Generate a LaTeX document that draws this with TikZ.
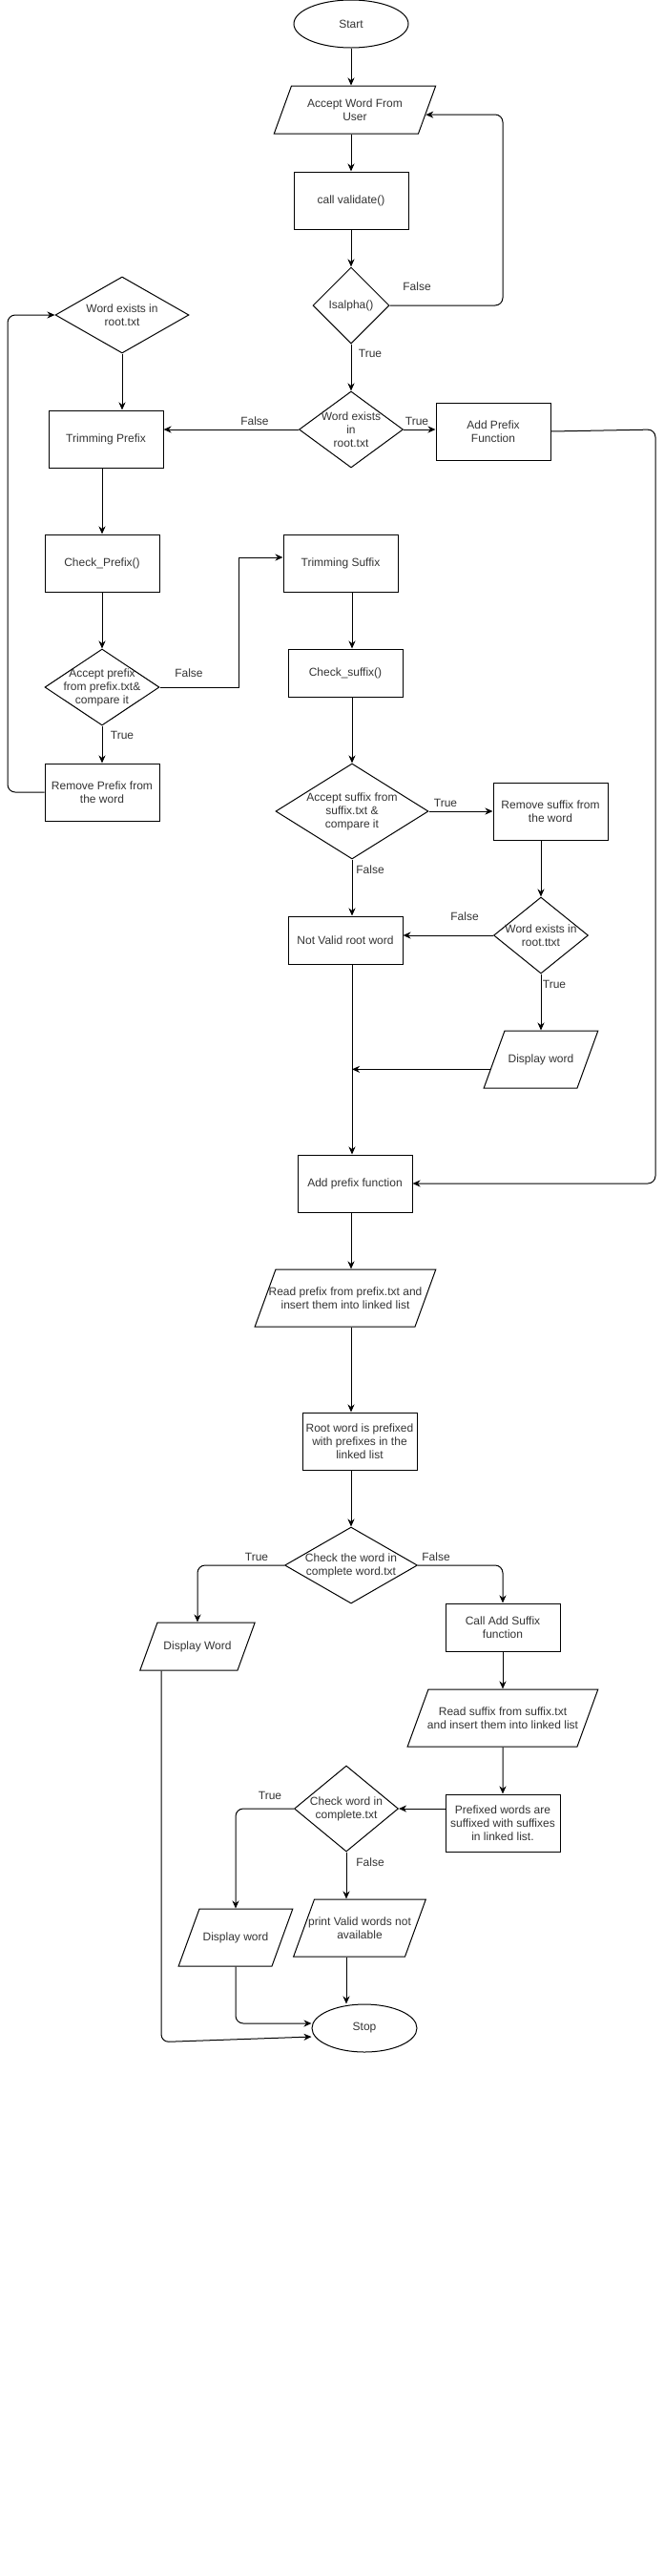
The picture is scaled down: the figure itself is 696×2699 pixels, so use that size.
\documentclass[tikz,border=0pt]{standalone}
\usepackage{fontspec}
\setmainfont{Liberation Sans}
\usepackage{tikz}
\usetikzlibrary{shapes.geometric,arrows.meta}

\begin{document}
\begin{tikzpicture}[x=1pt, y=-1pt, font=\fontsize{12}{14}\selectfont,
    base/.style={draw, line width=1pt, inner sep=0pt, text=black!80, align=center},
    box/.style={base, rectangle, minimum width=120pt},
    oval/.style={base, ellipse, minimum height=50pt},
    dia/.style={base, diamond},
    io/.style 2 args={base, trapezium, trapezium left angle=70, trapezium right angle=110,
        text width=#1, text height=#2, text depth=#2},
    txt/.style={text=black!80, align=center, inner sep=0pt},
    lbl/.style={text=black!80, inner sep=0pt},
    arr/.style={line width=1pt, -{Stealth[length=8pt,width=7pt,inset=2.5pt]}},
    elbow/.style={arr, rounded corners=8pt}]
    \useasboundingbox (0,0) rectangle (696,2699);
    \coordinate (sp) at (368,0); %main line%
    \coordinate (jn) at (369,1120); %join of display word%

    % input and validation
    \node[oval, minimum width=120pt] (start) at (368,25) {Start};
    \node[io={133pt}{25pt}, label={[txt]center:Accept Word From\\User}] (accept) at (372,115) {};
    \node[box, minimum height=60pt] (valid) at (368,210) {call validate()};
    \node[dia, minimum width=80pt, minimum height=80pt, label={[txt]center:Isalpha()}] (isalpha) at (368,320) {};

    % prefix side
    \node[dia, minimum width=140pt, minimum height=80pt, label={[txt]center:Word exists in\\root.txt}] (wordA) at (128,330) {};
    \node[dia, minimum width=109pt, minimum height=80pt, label={[txt]center:Word exists\\in\\root.txt}] (wordB) at (368,450) {};
    \node[box, minimum height=60pt] (trimpre) at (111,460) {Trimming Prefix};
    \node[box, minimum height=60pt] (addpre) at (517,452) {Add Prefix\\Function};
    \node[box, minimum height=60pt] (chkpre) at (107,590) {Check\_Prefix()};
    \node[dia, minimum width=120pt, minimum height=80pt, label={[txt]center:Accept prefix\\from prefix.txt\&\\compare it}] (accpre) at (107,720) {};
    \node[box, minimum height=60pt] (rempre) at (107,830) {Remove Prefix from\\the word};

    % suffix side
    \node[box, minimum height=60pt] (trimsuf) at (357,590) {Trimming Suffix};
    \node[box, minimum height=50pt] (chksuf) at (362,705) {Check\_suffix()};
    \node[dia, minimum width=160pt, minimum height=100pt, label={[txt]center:Accept suffix from\\suffix.txt \&\\compare it}] (accsuf) at (369,850) {};
    \node[box, minimum height=60pt] (remsuf) at (577,850) {Remove suffix from\\the word};
    \node[dia, minimum width=99pt, minimum height=80pt, label={[txt]center:Word exists in\\root.ttxt}] (wordC) at (567,980) {};
    \node[box, minimum height=50pt] (notvalid) at (362,985) {Not Valid root word};
    \node[io={76pt}{30pt}, label={[txt]center:Display word}] (disp1) at (567,1110) {};

    % adding prefixes and suffixes
    \node[box, minimum height=60pt] (addfn) at (372,1240) {Add prefix function};
    \node[io={146pt}{30pt}, label={[txt]center:Read prefix from prefix.txt and\\insert them into linked list}] (readpre) at (362,1360) {};
    \node[box, minimum height=60pt] (rootw) at (377,1510) {Root word is prefixed\\with prefixes in the\\linked list};
    \node[dia, minimum width=139pt, minimum height=80pt, label={[txt]center:Check the word in\\complete word.txt}] (chk1) at (368,1640) {};
    \node[io={84pt}{25pt}, label={[txt]center:Display Word}] (dispW) at (207,1725) {};
    \node[box, minimum height=50pt] (callsuf) at (527,1705) {Call Add Suffix\\function};
    \node[io={156pt}{30pt}, label={[txt]center:Read suffix from suffix.txt\\and insert them into linked list}] (readsuf) at (527,1800) {};
    \node[box, minimum height=60pt] (prefw) at (527,1910) {Prefixed words are\\suffixed with suffixes\\in linked list.};
    \node[dia, minimum width=109pt, minimum height=90pt, label={[txt]center:Check word in\\complete.txt}] (chk2) at (363,1895) {};
    \node[io={76pt}{30pt}, label={[txt]center:Display word}] (disp2) at (247,2030) {};
    \node[io={95pt}{30pt}, label={[txt]center:print Valid words not\\available}] (printv) at (377,2020) {};
    \node[oval, minimum width=110pt] (stop) at (382,2125) {Stop};

    % connectors
    \draw[arr] (start.south -| sp) -- (accept.north -| sp);
    \draw[arr] (accept.south -| sp) -- (valid.north -| sp);
    \draw[arr] (valid) -- (isalpha);
    \draw[elbow] (isalpha.east) -| (527,120) -- (accept.-4) node[lbl] (lA) at (437,300) {False};
    \draw[arr] (isalpha) -- (wordB) node[lbl] (lB) at (388,370) {True};
    \draw[arr] (wordB.west) -- (wordB.west -| trimpre.east) node[lbl] (lC) at (267,441) {False};
    \draw[arr] (wordB.east) -- (wordB.east -| addpre.west) node[lbl] (lD) at (437,441) {True};
    \draw[elbow] (addpre.east) -- (687,450) -- (687,1240) -- (addfn.east);
    \draw[arr] (wordA) -- (wordA.south |- trimpre.north);
    \draw[arr] (chkpre.north |- trimpre.south) -- (chkpre.north);
    \draw[arr] (chkpre) -- (accpre);
    \draw[arr] (accpre.east) -- (250,720) |- ([yshift=6pt]trimsuf.west) node[lbl] (lE) at (198,705) {False};
    \draw[arr] (accpre) -- (rempre) node[lbl] (lF) at (128,770) {True};
    \draw[elbow] (rempre.west) -- (8,830) -- (8,330) -- (wordA.west);
    \draw[arr] (trimsuf.south -| accsuf) -- (chksuf.north -| accsuf);
    \draw[arr] (chksuf.south -| accsuf) -- (accsuf);
    \draw[arr] (accsuf.east) -- (accsuf.east -| remsuf.west) node[lbl] (lG) at (467,841) {True};
    \draw[arr] (accsuf.south) -- (accsuf.south |- notvalid.north) node[lbl] (lH) at (388,911) {False};
    \draw[arr] (remsuf.south -| wordC) -- (wordC);
    \draw[arr] (wordC.west) -- (wordC.west -| notvalid.east) node[lbl] (lI) at (487,960) {False};
    \draw[arr] (wordC) -- (wordC.south |- disp1.north) node[lbl] (lJ) at (581,1031) {True};
    \draw[arr] (disp1.191) -- (disp1.191 -| jn);
    \draw[arr] (notvalid.south -| jn) -- (addfn.north -| jn);
    \draw[arr] (addfn.south -| sp) -- (readpre.north -| sp);
    \draw[arr] (readpre.south -| sp) -- (rootw.north -| sp);
    \draw[arr] (rootw.south -| sp) -- (chk1);
    \draw[elbow] (chk1.west) -| (dispW.north) node[lbl] (lK) at (269,1631) {True};
    \draw[elbow] (chk1.east) -| (callsuf.north) node[lbl] (lL) at (457,1631) {False};
    \draw[elbow] ([xshift=-38pt]dispW.south) -- ++(0,389) -- ([yshift=-9pt]stop.west);
    \draw[arr] (callsuf) -- (readsuf);
    \draw[arr] (readsuf) -- (prefw);
    \draw[arr] (chk2.east -| prefw.west) -- (chk2.east);
    \draw[elbow] (chk2.west) -| (disp2.north) node[lbl] (lM) at (283,1881) {True};
    \draw[arr] (chk2.south) -- (chk2.south |- printv.north) node[lbl] (lN) at (388,1951) {False};
    \draw[elbow] (disp2.south) |- ([yshift=5pt]stop.west);
    \draw[arr] (printv.south -| chk2.south) -- (stop.north -| chk2.south);
\end{tikzpicture}
\end{document}
